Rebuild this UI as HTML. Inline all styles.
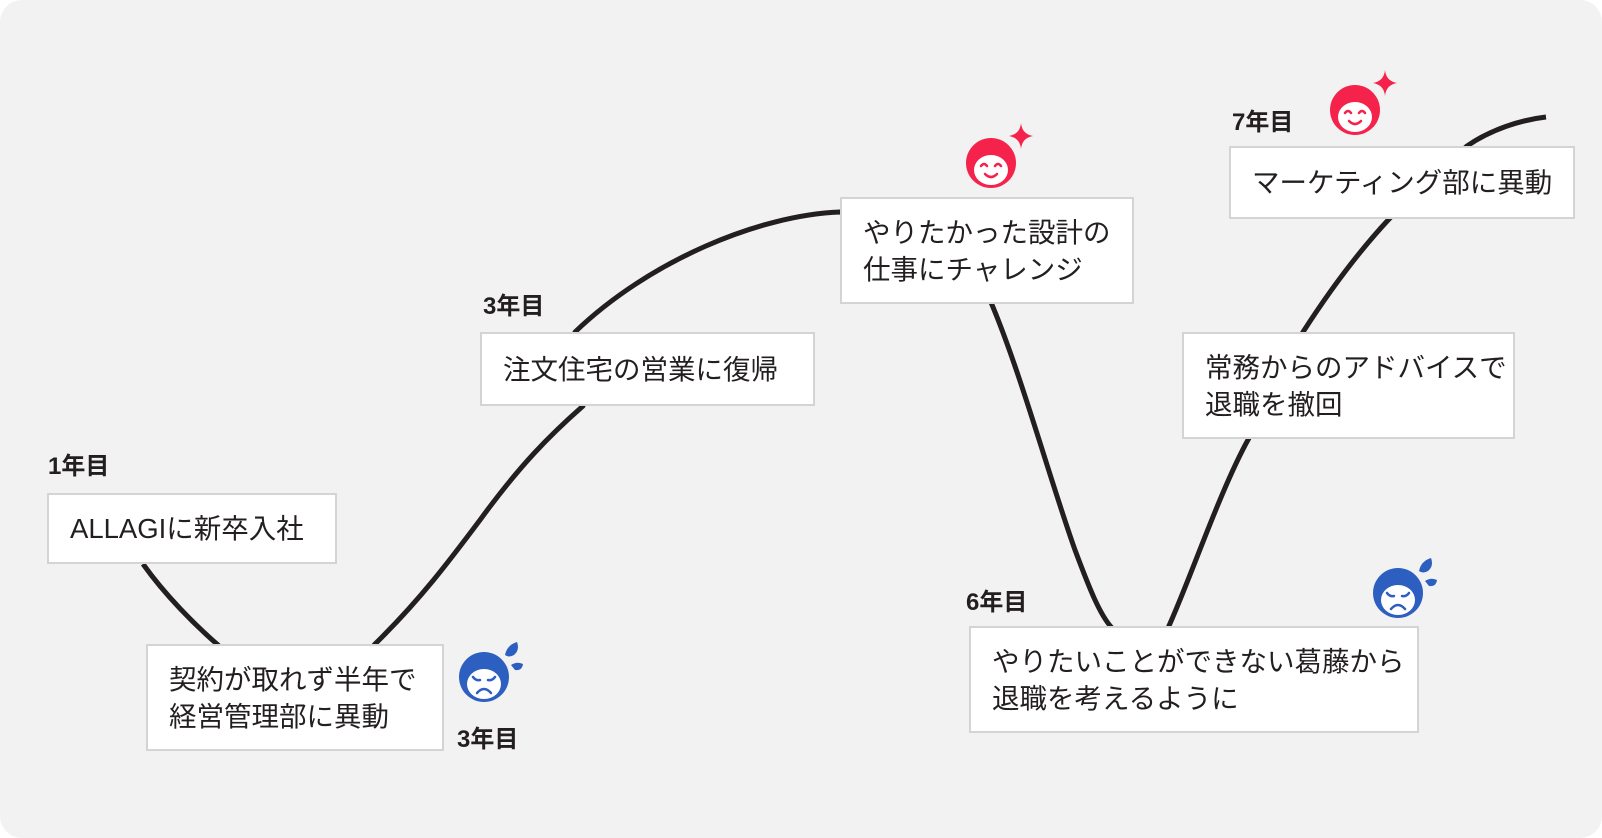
<!DOCTYPE html>
<html><head><meta charset="utf-8"><style>
html,body{margin:0;padding:0;background:#fff;}
body{width:1602px;height:838px;position:relative;overflow:hidden;font-family:"Liberation Sans","Noto Sans CJK JP",sans-serif;color:#231f20;}
.bg{position:absolute;left:0;top:0;width:1602px;height:838px;background:#f2f2f2;border-radius:22px;}
.box{position:absolute;background:#fff;border:2px solid #d4d4d4;box-sizing:border-box;font-size:27.5px;line-height:37px;padding-left:21px;display:flex;flex-direction:column;justify-content:center;white-space:nowrap;}
.lbl{position:absolute;font-weight:bold;font-size:24px;line-height:26px;}
svg{position:absolute;left:0;top:0;}
</style></head><body>
<div class="bg"></div>
<svg width="1602" height="838">
<path d="M143,564 C165,595 195,625 218,645 L300,730 L375,644 C420,600 450,560 480,520 C520,465 550,435 583,406 L575,332 C650,260 760,215 840,212 L990,300 C1020,370 1050,480 1075,550 C1090,590 1100,615 1112,628 L1140,720 L1168,628 C1190,580 1220,490 1249,438 L1303,332 C1330,290 1360,250 1390,218 L1467,146 C1490,130 1520,120 1546,117" fill="none" stroke="#231f20" stroke-width="5" stroke-linejoin="round"/>
<defs>
<g id="happy">
<circle cx="0" cy="0" r="25" fill="#f5234b"/>
<ellipse cx="0" cy="7" rx="17" ry="15" fill="#fff"/>
<path d="M-10,3 q3,-4 6,0 M4,3 q3,-4 6,0" stroke="#f5234b" stroke-width="2.5" fill="none" stroke-linecap="round"/>
<path d="M-6,11 q6,6 12,0" stroke="#f5234b" stroke-width="2.5" fill="none" stroke-linecap="round"/>
<path d="M30,-40 Q31,-29 42,-27 Q31,-25 30,-14 Q29,-25 18,-27 Q29,-29 30,-40Z" fill="#f5234b"/>
</g>
<g id="sad">
<circle cx="0" cy="0" r="25" fill="#2d5fc1"/>
<ellipse cx="0" cy="7" rx="17" ry="15" fill="#fff"/>
<path d="M-11,0 q3,4 7,3 M4,3 q4,1 7,-3" stroke="#2d5fc1" stroke-width="2.5" fill="none" stroke-linecap="round"/>
<path d="M-7,16 q7,-8 14,0" stroke="#2d5fc1" stroke-width="2.5" fill="none" stroke-linecap="round"/>
<path d="M21,-22 q2,-10 12,-13 q3,8 -3,13 q-5,3 -9,0Z" fill="#2d5fc1"/>
<path d="M27,-12 q6,-4 12,-1 q-1,7 -8,6Z" fill="#2d5fc1"/>
</g>
</defs>
<use href="#sad" x="484" y="677"/>
<use href="#happy" x="991" y="163"/>
<use href="#sad" x="1398" y="593"/>
<use href="#happy" x="1355" y="110"/>
</svg>
<div class="lbl" style="left:48px;top:454px;">1年目</div>
<div class="box" style="left:47px;top:493px;width:290px;height:71px;">ALLAGIに新卒入社</div>
<div class="box" style="left:146px;top:644px;width:298px;height:107px;"><div>契約が取れず半年で</div><div>経営管理部に異動</div></div>
<div class="lbl" style="left:457px;top:727px;">3年目</div>
<div class="lbl" style="left:483px;top:294px;">3年目</div>
<div class="box" style="left:480px;top:332px;width:335px;height:74px;">注文住宅の営業に復帰</div>
<div class="box" style="left:840px;top:197px;width:294px;height:107px;"><div>やりたかった設計の</div><div>仕事にチャレンジ</div></div>
<div class="box" style="left:1182px;top:332px;width:333px;height:107px;"><div>常務からのアドバイスで</div><div>退職を撤回</div></div>
<div class="lbl" style="left:966px;top:590px;">6年目</div>
<div class="box" style="left:969px;top:626px;width:450px;height:107px;"><div>やりたいことができない葛藤から</div><div>退職を考えるように</div></div>
<div class="lbl" style="left:1232px;top:110px;">7年目</div>
<div class="box" style="left:1229px;top:146px;width:346px;height:73px;">マーケティング部に異動</div>
</body></html>
